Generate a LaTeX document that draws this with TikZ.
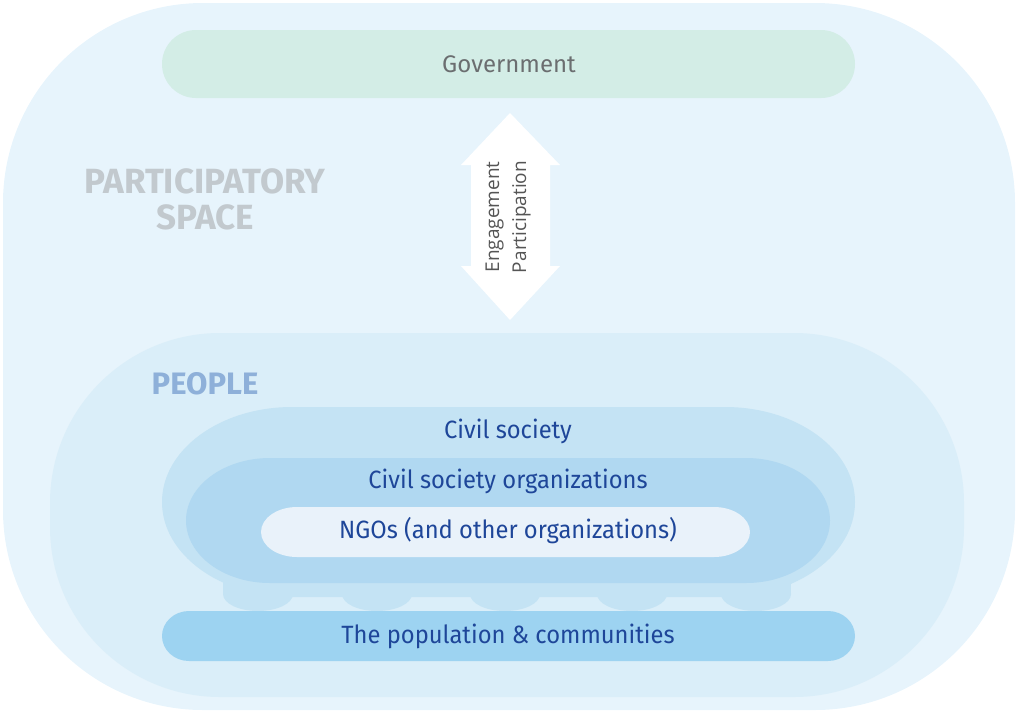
\documentclass[tikz,border=0pt]{standalone}
\usepackage{fontspec}
\usetikzlibrary{positioning}
\newfontfamily\dinfont[FakeStretch=0.95]{Fira Sans}
\newfontfamily\dinplain{Fira Sans}
\newfontfamily\dinbold{Fira Sans Bold}
\newfontfamily\armfont{Open Sans}

\definecolor{spacebg}{HTML}{E7F4FC}
\definecolor{peoplebg}{HTML}{DAEEF9}
\definecolor{civilbg}{HTML}{C4E3F4}
\definecolor{csobg}{HTML}{B0D8F1}
\definecolor{ngobg}{HTML}{E9F2FA}
\definecolor{popbg}{HTML}{9DD3F1}
\definecolor{govbg}{HTML}{D3EDE6}
\definecolor{govtext}{HTML}{6B6E70}
\definecolor{spacetext}{HTML}{C2C9CE}
\definecolor{peopletext}{HTML}{8EB0D9}
\definecolor{bluetext}{HTML}{1E4699}
\definecolor{armtext}{HTML}{555555}

% box with elliptic corners: style, x1, y1, x2, y2, rx, ry
\newcommand\ovalbox[7]{%
  \fill[#1] ({#2+#6},#3) -- ({#4-#6},#3)
    arc[start angle=-90,end angle=0,x radius=#6,y radius=#7] -- (#4,{#5-#7})
    arc[start angle=0,end angle=90,x radius=#6,y radius=#7] -- ({#2+#6},#5)
    arc[start angle=90,end angle=180,x radius=#6,y radius=#7] -- (#2,{#3+#7})
    arc[start angle=180,end angle=270,x radius=#6,y radius=#7] -- cycle;}

\tikzset{
  label/.style={font=\dinfont\fontsize{25}{28}\selectfont, text=bluetext, inner sep=0pt},
  title/.style={font=\dinbold\fontsize{35}{36}\selectfont, inner sep=0pt, align=center},
}

\begin{document}
\begin{tikzpicture}[x=1pt,y=-1pt]
    \useasboundingbox (0,0) rectangle (1017,713);

    % the participatory space
    \ovalbox{spacebg}{3}{3}{1015}{710}{200}{200}

    % government
    \ovalbox{govbg}{162}{30}{855}{98}{34}{34}
    \node[font=\dinplain\fontsize{24}{26}\selectfont, text=govtext, inner sep=0pt] (gov) at (509,64) {Government};

    % the double arrow
    \fill[white] (510,113) -- (560,165) -- (550,165) -- (550,266) -- (560,266)
        -- (510,320) -- (461,266) -- (471,266) -- (471,165) -- (461,165) -- cycle;
    \node[rotate=90, font=\armfont\fontsize{19}{27}\selectfont, text=armtext, align=center, inner sep=0pt] (arrowtext) at (508,217) {Engagement\\Participation};

    \node[title, text=spacetext] (space) at (205,199) {PARTICIPATORY\\SPACE};

    % people
    \ovalbox{peoplebg}{50}{333}{964}{697}{170}{170}
    \node[title, font=\dinbold\fontsize{31}{34}\selectfont, text=peopletext] (people) at (205,384) {PEOPLE};

    % civil society and the bumps under it
    \ovalbox{civilbg}{162}{407}{855}{597}{130}{95}
    \foreach \cx in {258,377,505,632,756}{
        \fill[civilbg] (\cx-35,575) rectangle (\cx+35,594);
        \fill[civilbg] (\cx,594) ellipse[x radius=35,y radius=17];
    }
    \node[label] (civil) at (508,431) {Civil society};

    % civil society organizations
    \ovalbox{csobg}{186}{458}{830}{583}{84}{62.5}
    \node[label] (cso) at (508,481) {Civil society organizations};

    % ngos
    \ovalbox{ngobg}{261}{507}{750}{557}{36}{25}
    \node[label] (ngo) at (508,531) {NGOs (and other organizations)};

    % population
    \ovalbox{popbg}{162}{611}{855}{661}{27}{25}
    \node[label] (pop) at (508,636) {The population \& communities};

\end{tikzpicture}
\end{document}
